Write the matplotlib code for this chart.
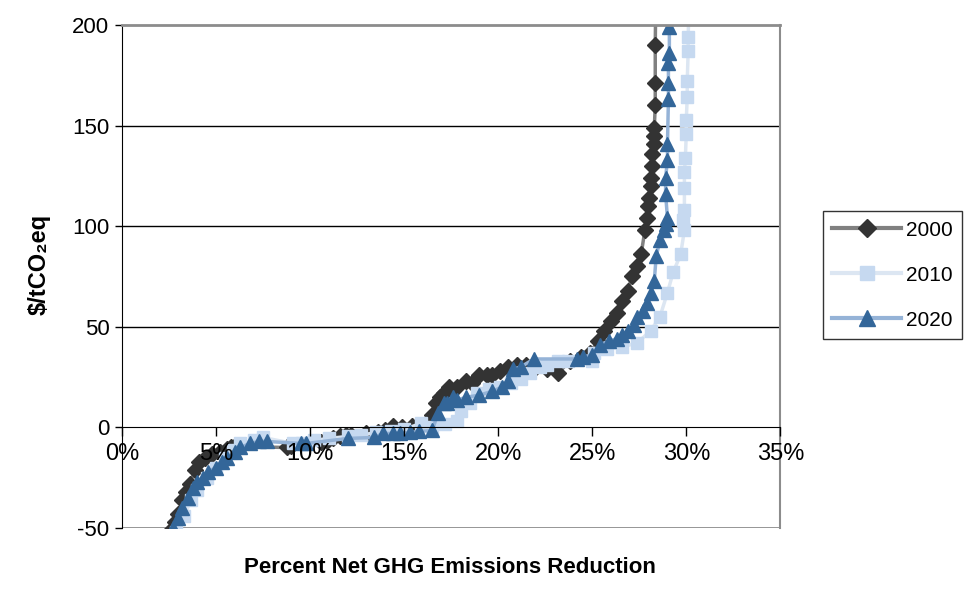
import matplotlib
matplotlib.use("Agg")
import matplotlib.pyplot as plt
from matplotlib.lines import Line2D

plt.rcParams['font.family'] = ['Liberation Sans', 'DejaVu Sans']
plt.rcParams['axes.unicode_minus'] = False

# cost curves: percent reduction vs $/tCO2eq
x_2000 = [2.2, 2.5, 2.8, 3.0, 3.2, 3.4, 3.6, 3.9, 4.1, 4.4, 4.8, 5.2, 5.6, 5.8, 6.0,
          8.8, 9.0, 10.6, 10.9, 11.2, 11.6, 11.9, 12.2, 13.0, 13.6, 14.0, 14.4, 14.9,
          15.4, 15.9, 16.3, 16.5, 16.7, 16.9, 17.1, 17.4, 17.8, 18.3, 18.6, 19.0, 19.4,
          19.7, 20.1, 20.5, 21.0, 21.5, 22.0, 22.6, 23.2, 23.8, 24.4, 24.9, 25.3, 25.6,
          26.0, 26.3, 26.6, 26.9, 27.1, 27.4, 27.6, 27.8, 27.9, 27.95, 28.0, 28.1, 28.1,
          28.2, 28.2, 28.3, 28.3, 28.3, 28.35, 28.35, 28.35, 28.4]
y_2000 = [-58, -52, -47, -43, -36, -32, -28, -21, -17, -15, -13, -12, -10.5, -10, -9.5,
          -10, -9.5, -7.5, -7, -5.5, -4.5, -4, -4, -3, -2.5, -1.5, 0.5, 0,
          0.5, 1, 3, 6, 12, 15, 17, 20, 20, 23, 22, 26, 26,
          26, 28, 30, 31, 31, 30, 29, 27, 33, 35, 37, 43, 48,
          53, 57, 63, 68, 75, 80, 86, 98, 104, 110, 114, 120, 124,
          130, 136, 141, 145, 149, 160, 171, 190, 230]

x_2010 = [2.6, 2.9, 3.3, 3.7, 4.0, 4.5, 5.0, 5.5, 5.9, 6.3, 7.0, 7.5, 9.1, 9.6, 10.2,
          11.0, 12.0, 12.7, 13.5, 14.3, 15.0, 15.9, 16.5, 17.2, 17.8, 18.0, 18.5, 18.9,
          19.5, 20.1, 20.7, 21.2, 21.7, 22.2, 22.6, 23.2, 23.7, 25.0, 25.1, 25.8, 26.6,
          27.4, 28.1, 28.6, 29.0, 29.3, 29.7, 29.9, 29.85, 29.9, 29.9, 29.9, 29.95, 30.0,
          30.0, 30.05, 30.05, 30.1, 30.1, 30.2]
y_2010 = [-60, -52, -44, -36, -31, -25, -20, -15, -11, -8, -6.5, -5, -8, -8, -6.5,
          -5.5, -4.5, -4, -2.5, -2, -1, 2, 0, 1.5, 3, 8, 12, 17,
          19, 20, 22, 24, 27, 30, 31, 33, 33, 33, 37, 39, 40,
          42, 48, 55, 67, 77, 86, 98, 103, 108, 119, 127, 134, 146,
          153, 164, 172, 187, 194, 230]

x_2020 = [2.4, 2.7, 3.0, 3.2, 3.5, 3.8, 4.0, 4.3, 4.6, 5.0, 5.3, 5.6, 6.0, 6.3, 6.8,
          7.3, 7.7, 9.5, 9.8, 12.0, 13.4, 13.9, 14.4, 14.8, 15.3, 15.8, 16.5, 16.8,
          17.1, 17.3, 17.6, 17.8, 18.3, 19.0, 19.7, 20.2, 20.5, 20.8, 21.2, 21.9, 24.2,
          24.5, 25.0, 25.4, 25.9, 26.3, 26.6, 26.9, 27.2, 27.4, 27.7, 27.9, 28.1, 28.3,
          28.4, 28.6, 28.8, 28.9, 29.0, 28.9, 28.9, 29.0, 29.0, 29.05, 29.05, 29.05,
          29.1, 29.1, 29.15]
y_2020 = [-60, -50, -45, -40, -35, -30, -27, -25, -22, -20, -17, -15, -12, -10, -8,
          -7, -7, -8, -8, -5.5, -5, -3, -3, -3, -2.5, -2, -1.5, 7,
          12, 12, 15, 13.5, 15, 16, 18, 20, 23, 29, 30, 34, 34,
          35, 36, 41, 43, 44, 46, 48, 51, 55, 58, 62, 67, 73,
          85, 93, 98, 101, 104, 116, 124, 133, 141, 163, 171, 181,
          186, 199, 230]

years = ['2000', '2010', '2020']
y_ticks = [-50, 0, 50, 100, 150, 200]
x_ticks = [0, 5, 10, 15, 20, 25, 30, 35]

fig = plt.figure(figsize=(9.67, 5.89), dpi=100)
ax = fig.add_axes([0.126, 0.1036, 0.681, 0.854])

# gridlines and frame
for v in [50, 100, 150]:
    ax.axhline(v, color='black', lw=1, zorder=1)
ax.axhline(-50, color='#8c8c8c', lw=2, zorder=1)

ax.plot(x_2000, y_2000, color='#808080', lw=2.5, marker='D', ms=8,
        mfc='#333333', mec='#333333', zorder=2)
ax.plot(x_2010, y_2010, color='#dce6f2', lw=2.5, marker='s', ms=9,
        mfc='#c6d9f0', mec='#c6d9f0', zorder=2)
ax.plot(x_2020, y_2020, color='#95b3d7', lw=2.5, marker='^', ms=10,
        mfc='#336699', mec='#336699', zorder=2)

ax.set_xlim(0, 35)
ax.set_ylim(-50, 200)
ax.spines['bottom'].set_position(('data', 0))
ax.spines['bottom'].set_color('black')
ax.spines['left'].set_color('black')
ax.spines['top'].set_color('#8c8c8c')
ax.spines['top'].set_linewidth(2)
ax.spines['right'].set_color('#8c8c8c')
ax.spines['right'].set_linewidth(1.5)

ax.set_xticks(x_ticks)
ax.set_xticklabels([f'{t}%' for t in x_ticks])
ax.set_yticks(y_ticks)
ax.tick_params(axis='x', direction='out', length=6.5, width=1, pad=5, labelsize=17)
ax.tick_params(axis='y', direction='out', length=5, width=1, pad=4, labelsize=16)
ax.xaxis.set_zorder(5)

ax.set_ylabel('\\$/tCO₂eq', fontsize=17, fontweight='bold')
ax.yaxis.set_label_coords(-0.108, 0.523)
fig.text(0.465, 0.018, 'Percent Net GHG Emissions Reduction', fontsize=16,
         fontweight='bold', ha='center', va='bottom')

handles = [
    Line2D([], [], color='#808080', lw=3, marker='D', ms=9, mfc='#333333', mec='#333333'),
    Line2D([], [], color='#dce6f2', lw=3, marker='s', ms=10, mfc='#c6d9f0', mec='#c6d9f0'),
    Line2D([], [], color='#95b3d7', lw=3, marker='^', ms=11, mfc='#336699', mec='#336699'),
]
leg = fig.legend(handles, years, loc='center left', bbox_to_anchor=(0.851, 0.533),
                 fontsize=15, frameon=True, fancybox=False, edgecolor='black',
                 handlelength=3.3, labelspacing=1.25, borderpad=0.45, handletextpad=0.25,
                 borderaxespad=0)
leg.get_frame().set_linewidth(1)

fig.savefig('out.png', dpi=100)
